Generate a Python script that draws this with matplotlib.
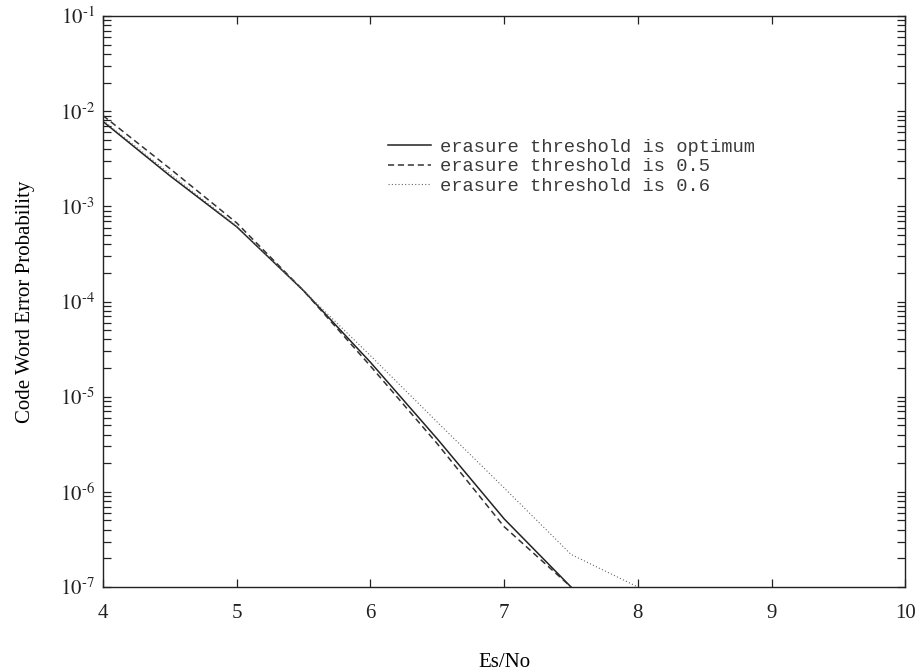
import math

import matplotlib
matplotlib.use("Agg")
import matplotlib.pyplot as plt
from matplotlib.ticker import FixedLocator, LogLocator, NullFormatter, FuncFormatter

# Es/No points (dB) and code word error probabilities
es_no = [4.0, 4.5, 5.0, 5.5, 6.0, 6.5, 7.0, 7.5]
p_optimum = [7.8e-3, 2.1e-3, 6.1e-4, 1.3e-4, 2.3e-5, 3.6e-6, 5.2e-7, 1.0e-7]
p_thr_05 = [9.0e-3, 2.5e-3, 6.7e-4, 1.3e-4, 2.1e-5, 3.2e-6, 4.3e-7, 1.0e-7]
es_no_06 = [4.0, 4.5, 5.0, 5.5, 6.0, 6.5, 7.0, 7.5, 8.0]
p_thr_06 = [8.0e-3, 2.2e-3, 6.2e-4, 1.3e-4, 2.7e-5, 5.4e-6, 1.1e-6, 2.2e-7, 1.0e-7]

labels = [
    "erasure threshold is optimum",
    "erasure threshold is 0.5",
    "erasure threshold is 0.6",
]
x_ticks = [4, 5, 6, 7, 8, 9, 10]
y_exponents = [-7, -6, -5, -4, -3, -2, -1]

plt.rcParams["font.family"] = ["Liberation Serif", "DejaVu Serif"]
plt.rcParams["mathtext.fontset"] = "stix"


def pow10_label(v, pos):
    e = int(round(math.log10(v)))
    return r"$10^{\text{-}%d}$" % abs(e)


fig = plt.figure(figsize=(9.2, 6.72), dpi=100)
ax = fig.add_axes([0.112, 0.1265, 0.872, 0.8495])

ax.plot(es_no, p_optimum, color="#222222", linewidth=1.1, linestyle="-", label=labels[0])
ax.plot(es_no, p_thr_05, color="#333333", linewidth=1.1, linestyle=(0, (4, 2.5)), label=labels[1])
ax.plot(es_no_06, p_thr_06, color="#666666", linewidth=0.8, linestyle=(0, (1, 2)), label=labels[2])

ax.set_yscale("log")
ax.set_xlim(4, 10)
ax.set_ylim(1e-7, 1e-1)

ax.xaxis.set_major_locator(FixedLocator(x_ticks))
ax.yaxis.set_major_locator(FixedLocator([10.0 ** e for e in y_exponents]))
ax.yaxis.set_minor_locator(LogLocator(base=10, subs=range(2, 10), numticks=20))
ax.yaxis.set_minor_formatter(NullFormatter())
ax.yaxis.set_major_formatter(FuncFormatter(pow10_label))

ax.tick_params(which="both", direction="in", top=True, right=True, width=0.9, colors="#222222")
ax.tick_params(which="major", length=6, labelsize=15, pad=6)
ax.tick_params(which="minor", length=6)
ax.tick_params(axis="x", which="major", pad=12)
for sp in ax.spines.values():
    sp.set_linewidth(1.0)
    sp.set_color("#222222")

ax.set_xlabel("Es/No", fontsize=15, labelpad=22)
ax.set_ylabel("Code Word Error Probability", fontsize=15, labelpad=18)

leg = ax.legend(
    loc="upper left",
    bbox_to_anchor=(0.355, 0.785),
    frameon=False,
    prop={"family": "Liberation Mono", "size": 13.5},
    handlelength=2.3,
    handletextpad=0.5,
    labelspacing=0.12,
    borderpad=0,
    borderaxespad=0,
)
for t in leg.get_texts():
    t.set_color("#3a3a3a")

fig.savefig("out.png", dpi=100)
